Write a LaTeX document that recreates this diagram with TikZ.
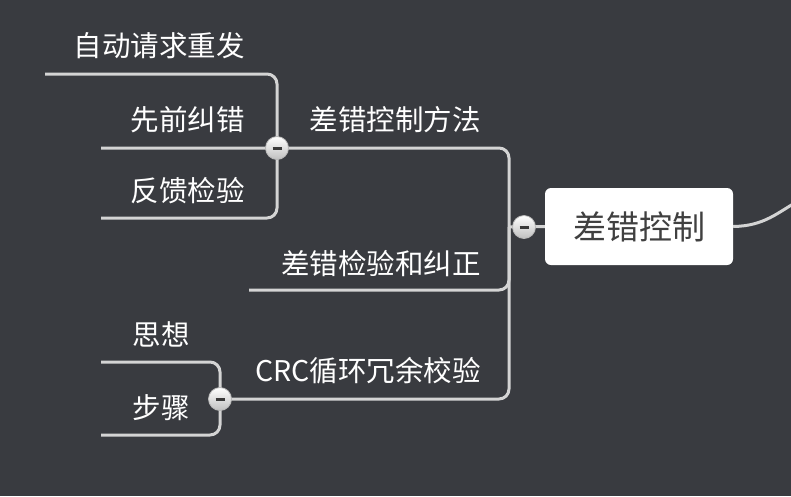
\documentclass[tikz,border=0pt]{standalone}
\usepackage{fontspec}
\setmainfont{Noto Sans CJK SC}
\definecolor{bgdark}{HTML}{393B40}
\definecolor{linkgray}{HTML}{D4D4D4}
\definecolor{roottext}{HTML}{404040}

\begin{document}
\begin{tikzpicture}[x=1pt, y=-1pt,
  link/.style={draw=linkgray, line width=3pt, rounded corners=10pt},
  topic/.style={text=white, font=\fontsize{28.5}{32}\selectfont, inner sep=0pt, anchor=east},
  fold/.style={circle, minimum size=23pt, inner sep=0pt, draw=gray!55, line width=0.8pt,
    top color=white, bottom color=gray!50,
    path picture={\draw[line width=3pt, gray!45!black]
      ([xshift=-4.5pt]path picture bounding box.center) --
      ([xshift=4.5pt]path picture bounding box.center);}}]
  % Background
  \fill[bgdark] (0,0) rectangle (791,496);
  \useasboundingbox (0,0) rectangle (791,496);

  % Root topic
  \node[fill=white, rounded corners=6pt, minimum width=188pt, minimum height=77pt,
    text=roottext, font=\fontsize{33}{36}\selectfont] (root) at (639,226.5) {差错控制};

  % Fold buttons and free ends
  \coordinate (f0) at (524,227);
  \coordinate (t0) at (509,227);
  \coordinate (f1) at (277,148);
  \coordinate (f3) at (220,399);
  \coordinate (m2end) at (249,290);
  \coordinate (a1end) at (45,74);
  \coordinate (a2end) at (101,148);
  \coordinate (a3end) at (101,218);
  \coordinate (b1end) at (101,362);
  \coordinate (b2end) at (101,435);
  \coordinate (out) at (800,200);

  % Links
  \draw[link] (root.east) .. controls (765,226) and (778,212) .. (out);
  \draw[link] (root.west) -- (t0);
  \draw[link] (t0) |- (f1);
  \draw[link] (t0) |- (m2end);
  \draw[link] (t0) |- (f3);
  \foreach \e in {a1end,a2end,a3end}
    \draw[link] (f1) |- (\e);
  \foreach \e in {b1end,b2end}
    \draw[link] (f3) |- (\e);

  % Topics
  \node[topic] (m1) at (481,120) {差错控制方法};
  \node[topic] (m2) at (481,264) {差错检验和纠正};
  \node[topic] (m3) at (481,371) {CRC循环冗余校验};
  \node[topic] (a1) at (245,46) {自动请求重发};
  \node[topic] (a2) at (245,120) {先前纠错};
  \node[topic] (a3) at (245,191) {反馈检验};
  \node[topic] (b1) at (190,334) {思想};
  \node[topic] (b2) at (190,408) {步骤};

  \foreach \f in {f0,f1,f3}
    \node[fold] at (\f) {};
\end{tikzpicture}
\end{document}
